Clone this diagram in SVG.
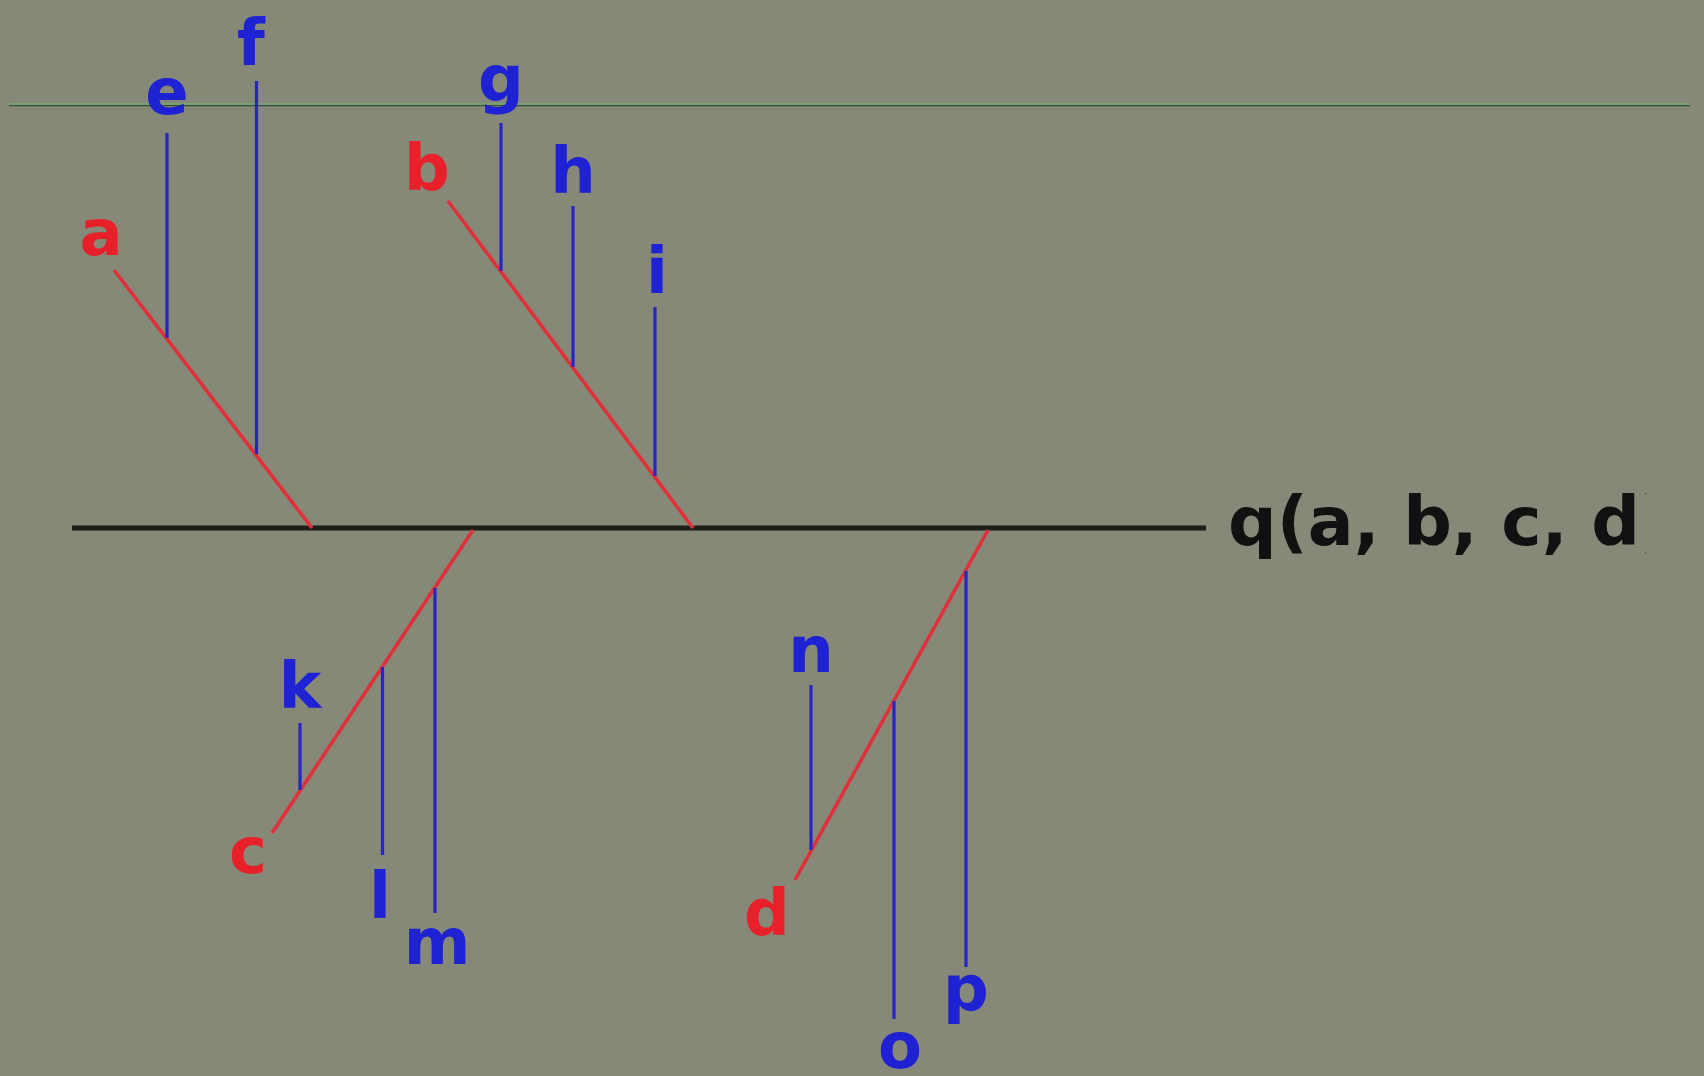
<svg xmlns="http://www.w3.org/2000/svg" width="1704" height="1076" viewBox="0 0 1704 1076">
<style>
.lbl{font-family:"DejaVu Sans","Liberation Sans",sans-serif;font-weight:bold;font-size:64px;text-anchor:middle}
.blue{fill:#1e22d2}
.red{fill:#e8202a}
.bl{stroke:#2626c4;stroke-width:3.2;fill:none}
.rd{stroke:#e0303a;stroke-width:3.6;fill:none}
</style>
<defs>
<clipPath id="clipq"><rect x="1200" y="470" width="446" height="110"/></clipPath>
</defs>
<rect width="1704" height="1076" fill="#868977"/>
<g id="connectors">
<line x1="9" y1="105.5" x2="1690" y2="105.5" stroke="#3c4a3c" stroke-width="1.5"/>
<line x1="9" y1="104" x2="1690" y2="104" stroke="#72b072" stroke-width="1.5"/>
<line x1="72" y1="528" x2="1206" y2="528" stroke="#1e1e1a" stroke-width="5"/>
<line class="rd" x1="114" y1="270" x2="312" y2="528"/>
<line class="rd" x1="448" y1="201" x2="693" y2="528"/>
<line class="rd" x1="473" y1="530" x2="272" y2="833"/>
<line class="rd" x1="988" y1="530" x2="795" y2="880"/>
<line class="bl" x1="167" y1="133" x2="167" y2="338"/>
<line class="bl" x1="256.5" y1="81" x2="256.5" y2="454"/>
<line class="bl" x1="501" y1="123" x2="501" y2="271"/>
<line class="bl" x1="573" y1="206" x2="573" y2="367"/>
<line class="bl" x1="655" y1="307" x2="655" y2="476"/>
<line class="bl" x1="300" y1="723" x2="300" y2="790"/>
<line class="bl" x1="382.5" y1="667" x2="382.5" y2="855"/>
<line class="bl" x1="435" y1="588" x2="435" y2="913"/>
<line class="bl" x1="811" y1="685" x2="811" y2="850"/>
<line class="bl" x1="894" y1="701" x2="894" y2="1019"/>
<line class="bl" x1="966" y1="571" x2="966" y2="967"/>
</g>
<g id="node-q"><text x="1228" y="545" clip-path="url(#clipq)" style="font-family:'DejaVu Sans','Liberation Sans',sans-serif;font-weight:bold;font-size:68px;fill:#111">q(a, b, c, d)</text></g>
<g id="node-a"><text class="lbl red" x="101" y="255">a</text></g>
<g id="node-b"><text class="lbl red" x="427" y="190">b</text></g>
<g id="node-c"><text class="lbl red" x="248" y="873">c</text></g>
<g id="node-d"><text class="lbl red" x="767" y="935">d</text></g>
<g id="node-e"><text class="lbl blue" x="167" y="114">e</text></g>
<g id="node-f"><text class="lbl blue" x="251" y="65">f</text></g>
<g id="node-g"><text class="lbl blue" x="501" y="101">g</text></g>
<g id="node-h"><text class="lbl blue" x="573" y="193">h</text></g>
<g id="node-i"><text class="lbl blue" x="657" y="293">i</text></g>
<g id="node-k"><text class="lbl blue" x="300" y="708">k</text></g>
<g id="node-l"><text class="lbl blue" x="380" y="918">l</text></g>
<g id="node-m"><text class="lbl blue" x="437" y="964">m</text></g>
<g id="node-n"><text class="lbl blue" x="811" y="672">n</text></g>
<g id="node-o"><text class="lbl blue" x="900" y="1068">o</text></g>
<g id="node-p"><text class="lbl blue" x="966" y="1011">p</text></g>
</svg>
